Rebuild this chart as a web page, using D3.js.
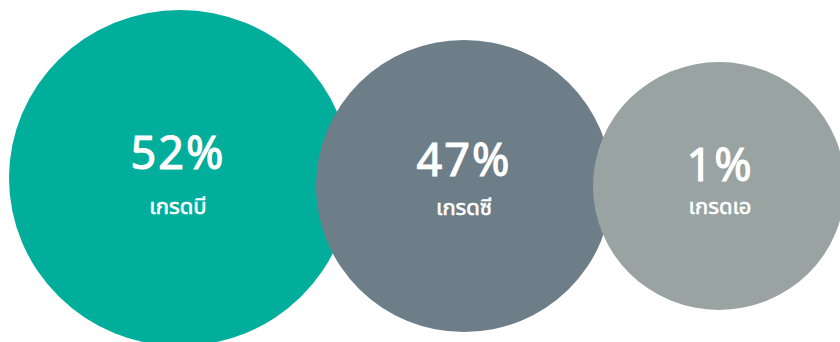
<!DOCTYPE html>
<html>
<head>
<meta charset="utf-8">
<script src="https://cdn.jsdelivr.net/npm/d3@7"></script>
<style>
  html, body { margin: 0; padding: 0; background: #fff; overflow: hidden; }
  svg { display: block; }
</style>
</head>
<body>
<svg id="chart" width="840" height="342"></svg>
<script>
// ---- data ----
const categories = ["เกรดบี", "เกรดซี", "เกรดเอ"];
const values = [52, 47, 1];

// ---- layout (positions / sizes / styles) ----
const layout = [
  { cx: 180, cy: 178, rx: 171, ry: 168, tx: 178, color: "#00AE9B", pctY: 169, labY: 214 },
  { cx: 464, cy: 186, rx: 148, ry: 146, tx: 464, color: "#6E7E89", pctY: 176, labY: 215 },
  { cx: 719, cy: 186, rx: 126, ry: 124, tx: 720, color: "#98A3A2", pctY: 181, labY: 214 }
];

const svg = d3.select("#chart");
const data = categories.map((c, i) => ({ category: c, value: values[i], ...layout[i] }));
const fmt = d => d3.format("d")(d) + "%";

const g = svg.selectAll("g.bubble")
  .data(data)
  .join("g")
  .attr("class", "bubble");

g.append("ellipse")
  .attr("cx", d => d.cx)
  .attr("cy", d => d.cy)
  .attr("rx", d => d.rx)
  .attr("ry", d => d.ry)
  .attr("fill", d => d.color);

g.append("text")
  .attr("x", d => d.tx)
  .attr("y", d => d.pctY)
  .attr("text-anchor", "middle")
  .attr("fill", "#fff")
  .attr("stroke", "#fff")
  .attr("stroke-width", 1.1)
  .style("font-family", "'Noto Sans', 'Open Sans', sans-serif")
  .style("font-size", "45px")
  .style("font-weight", 400)
  .style("letter-spacing", "2px")
  .text(d => fmt(d.value));

g.append("text")
  .attr("x", d => d.tx)
  .attr("y", d => d.labY)
  .attr("text-anchor", "middle")
  .attr("fill", "#fff")
  .attr("stroke", "#fff")
  .attr("stroke-width", 0.6)
  .style("font-family", "'Noto Sans Thai', 'Noto Sans', sans-serif")
  .style("font-size", "22px")
  .style("font-weight", 400)
  .text(d => d.category);
</script>
</body>
</html>
